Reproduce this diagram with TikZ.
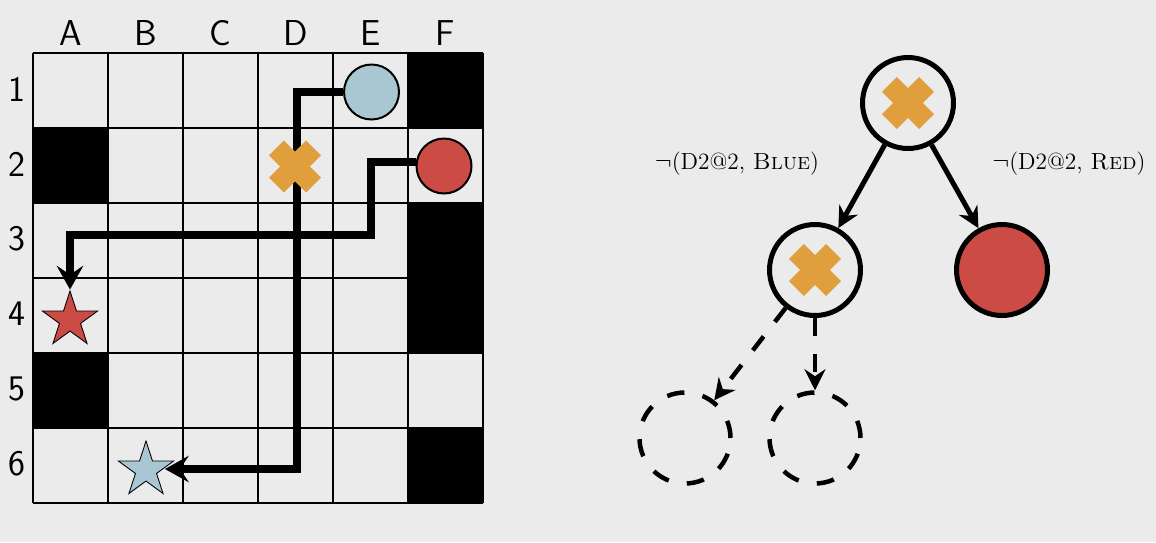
\documentclass[tikz,border=0pt]{standalone}
\usetikzlibrary{shapes.geometric,arrows.meta,calc}
\definecolor{bgc}{HTML}{EBEBEB}
\definecolor{bluec}{HTML}{A8C7D2}
\definecolor{redc}{HTML}{CC4B45}
\definecolor{orangec}{HTML}{E09F3C}
\newcommand\drawcross[1]{%
  \draw[xarm] (#1) ++(-18.6,-18.6) -- ++(37.2,37.2);
  \draw[xarm] (#1) ++(-18.6,18.6) -- ++(37.2,-37.2);}
\begin{document}
\begin{tikzpicture}[x=0.02cm,y=-0.02cm,
  gridline/.style={line width=0.042cm},
  collab/.style={font=\sffamily\fontsize{20.5}{24}\selectfont, inner sep=0pt},
  gcirc/.style={circle, draw, line width=0.04cm, minimum size=1.1cm, inner sep=0pt},
  gstar/.style={star, star points=5, star point ratio=2.618, draw, line width=0.5pt, minimum size=1.16cm, inner sep=0pt},
  gpath/.style={line width=4pt, -{Stealth[length=13.5pt, width=15pt, inset=5pt]}},
  xarm/.style={orangec, line width=0.42cm, line cap=butt},
  tnode/.style={circle, draw, line width=0.1cm, minimum size=1.82cm, inner sep=0pt, fill=bgc},
  dnode/.style={circle, draw, line width=0.09cm, minimum size=1.82cm, inner sep=0pt, dash pattern=on 10pt off 10.5pt},
  tedge/.style={line width=0.1cm, -{Stealth[length=12pt, width=12pt, inset=4pt]}},
  dedge/.style={line width=0.09cm, dash pattern=on 10pt off 10.5pt, -{Stealth[length=12pt, width=12pt, inset=4pt]}},
  lab/.style={font=\fontsize{13.3}{16}\selectfont, inner sep=0pt}]
\fill[bgc] (0,0) rectangle (1156,542);
\useasboundingbox (0,0) rectangle (1156,542);
% black cells
\foreach \c/\r in {0/1,0/4,5/0,5/2,5/3,5/5}
  \fill (33+75*\c,53+75*\r) rectangle ++(75,75);
% grid lines
\foreach \i in {0,...,6} {
  \draw[gridline] (33+75*\i,53) -- (33+75*\i,503);
  \draw[gridline] (33,53+75*\i) -- (483,53+75*\i);
}
% labels
\foreach \l [count=\i from 0] in {A,B,C,D,E,F}
  \node[collab] (col\l) at (70.5+75*\i,33) {\l};
\foreach \i in {1,...,6}
  \node[collab] (row\i) at (16.5,14+75*\i) {\i};
% stars
\node[gstar, fill=redc] (rs) at (70,320) {};
\node[gstar, fill=bluec] (bs) at (146,470) {};
% circles
\node[gcirc, fill=bluec] (bc) at (371.5,92) {};
\node[gcirc, fill=redc] (rg) at (444,166) {};
% paths
\draw[gpath] (bc.west) -| (297,469) -- ($(bs.center)+(19,-1)$);
\draw[gpath] ($(rg.west)+(0,-4)$) -| (371,235) -| (rs.north);
\coordinate (xg) at (295,166.5);
\drawcross{xg}
% tree
\node[tnode] (root) at (908,103) {};
\node[tnode] (lc) at (815,270) {};
\node[tnode, fill=redc] (rc) at (1002,270) {};
\node[dnode] (dl) at (685,438) {};
\node[dnode] (dr) at (815,438) {};
\drawcross{root}
\drawcross{lc}
\draw[tedge] (root) -- (lc);
\draw[tedge] (root) -- (rc);
\draw[dedge] (lc) -- (dl);
\draw[dedge] (lc) -- (dr);
\node[lab] (l1) at (737,164) {$\neg$(D2@2, \textsc{Blue})};
\node[lab] (l2) at (1069,164) {$\neg$(D2@2, \textsc{Red})};
\end{tikzpicture}
\end{document}
